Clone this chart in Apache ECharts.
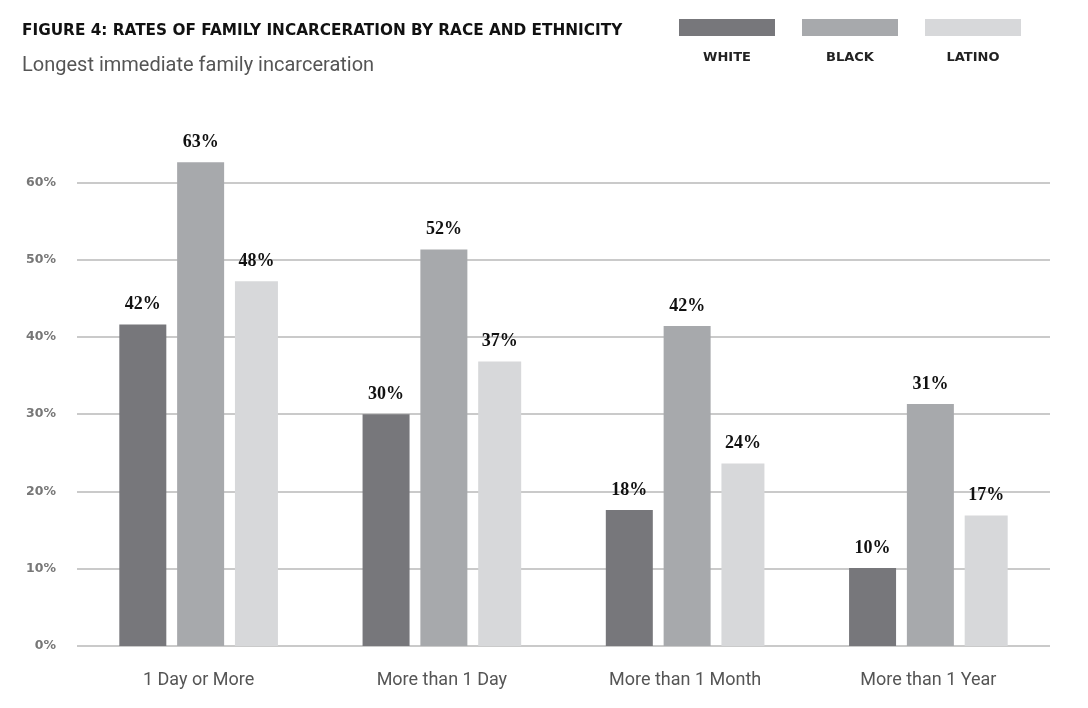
<!DOCTYPE html>
<html>
<head>
<meta charset="utf-8">
<script src="https://cdn.jsdelivr.net/npm/echarts@6/dist/echarts.min.js"></script>
<style>html,body{margin:0;padding:0;background:#fff;}#c{width:1088px;height:708px;}</style>
</head>
<body>
<div id="c"></div>
<script>
var categories = ['1 Day or More', 'More than 1 Day', 'More than 1 Month', 'More than 1 Year'];
var seriesNames = ['WHITE', 'BLACK', 'LATINO'];
var colors = ['#77777b', '#a7a9ac', '#d7d8da'];
var whiteValues = [41.6, 30.0, 17.6, 10.1];
var blackValues = [62.6, 51.3, 41.4, 31.3];
var latinoValues = [47.2, 36.8, 23.6, 16.9];
var whiteLabels = [42, 30, 18, 10];
var blackLabels = [63, 52, 42, 31];
var latinoLabels = [48, 37, 24, 17];
var yTicks = [0, 10, 20, 30, 40, 50, 60];

var values = [whiteValues, blackValues, latinoValues];
var labels = [whiteLabels, blackLabels, latinoLabels];
var widths = [47, 47, 43];

var chart = echarts.init(document.getElementById('c'), null, {renderer: 'canvas'});

var legendGraphics = [];
var legendX = [679, 802, 925];
seriesNames.forEach(function (n, i) {
  legendGraphics.push({
    type: 'rect', left: legendX[i], top: 19,
    shape: {width: 96, height: 17}, style: {fill: colors[i]}
  });
  legendGraphics.push({
    type: 'text', x: legendX[i] + 48, y: 58,
    style: {text: n, fill: '#222', font: 'bold 13px "DejaVu Sans", sans-serif', align: 'center', verticalAlign: 'middle'}
  });
});

chart.setOption({
  backgroundColor: '#fff',
  animation: false,
  title: {
    text: 'FIGURE 4: RATES OF FAMILY INCARCERATION BY RACE AND ETHNICITY',
    subtext: 'Longest immediate family incarceration',
    left: 17, top: 19, itemGap: 17,
    textStyle: {fontFamily: 'DejaVu Sans', fontWeight: 'bold', fontSize: 15.3, color: '#111'},
    subtextStyle: {fontFamily: 'Roboto', fontSize: 20, color: '#555'}
  },
  graphic: legendGraphics,
  grid: {left: 77, right: 38, top: 105, bottom: 62},
  xAxis: {
    type: 'category',
    data: categories,
    axisLine: {show: false},
    axisTick: {show: false},
    axisLabel: {margin: 25, fontFamily: 'Roboto', fontSize: 18, color: '#555'}
  },
  yAxis: {
    type: 'value',
    min: 0, max: 70, interval: 10,
    axisLine: {show: false},
    axisTick: {show: false},
    axisLabel: {
      margin: 21, showMaxLabel: false, fontFamily: 'DejaVu Sans', fontWeight: 'bold', fontSize: 12.5, color: '#777',
      formatter: function (v) { return yTicks.indexOf(v) >= 0 ? v + '%' : ''; }
    },
    splitLine: {show: true, showMaxLine: false, lineStyle: {color: '#b9b9b9', width: 1.5}}
  },
  series: seriesNames.map(function (n, i) {
    return {
      name: n,
      type: 'bar',
      data: values[i],
      barWidth: widths[i],
      barGap: '23%',
      itemStyle: {color: colors[i]},
      label: {
        show: true, position: 'top', distance: 11,
        fontFamily: 'Liberation Serif', fontWeight: 'bold', fontSize: 18, color: '#111',
        formatter: function (p) { return labels[i][p.dataIndex] + '%'; }
      }
    };
  })
});
</script>
</body>
</html>
